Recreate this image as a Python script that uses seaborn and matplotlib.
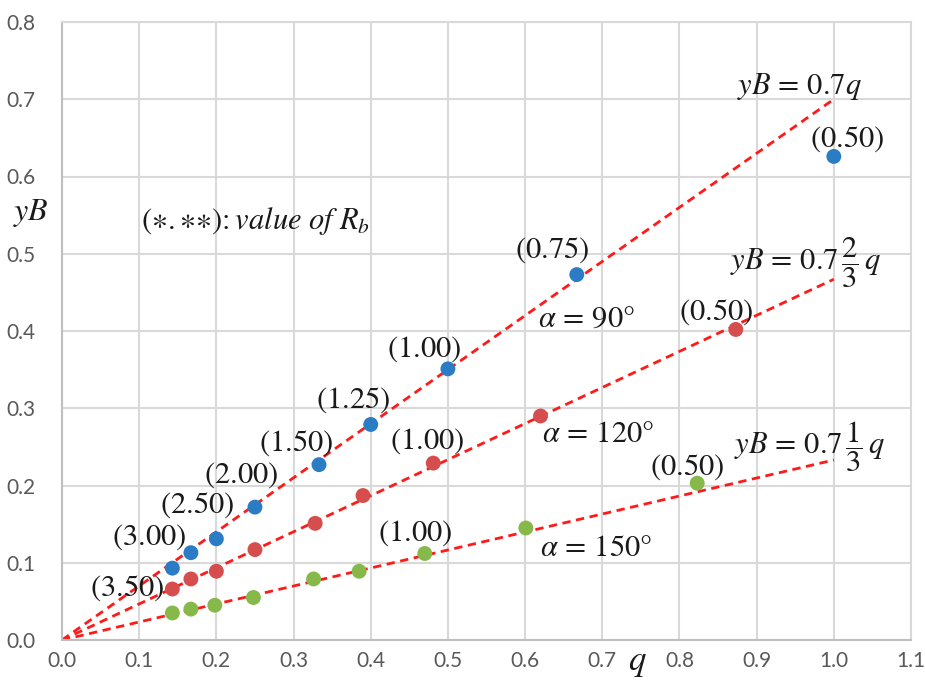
import numpy as np
import pandas as pd
import matplotlib
matplotlib.use("Agg")
import matplotlib.pyplot as plt
import seaborn as sns

# ---- data ----
rb_labels_blue = ["(3.50)", "(3.00)", "(2.50)", "(2.00)", "(1.50)", "(1.25)", "(1.00)", "(0.75)", "(0.50)"]
q_blue = [0.143, 0.167, 0.200, 0.250, 0.333, 0.400, 0.500, 0.667, 1.000]
yb_blue = [0.093, 0.113, 0.131, 0.172, 0.227, 0.279, 0.351, 0.473, 0.626]

q_red = [0.143, 0.167, 0.200, 0.250, 0.328, 0.390, 0.481, 0.620, 0.873]
yb_red = [0.066, 0.079, 0.089, 0.117, 0.151, 0.187, 0.229, 0.290, 0.402]

q_green = [0.143, 0.167, 0.198, 0.248, 0.326, 0.385, 0.470, 0.601, 0.823]
yb_green = [0.035, 0.040, 0.045, 0.055, 0.079, 0.089, 0.112, 0.145, 0.203]

series_names = ["α = 90°", "α = 120°", "α = 150°"]
line_q = [0.0, 1.0]
line_end_yb = [0.700, 0.467, 0.233]

x_ticks = [0.0, 0.1, 0.2, 0.3, 0.4, 0.5, 0.6, 0.7, 0.8, 0.9, 1.0, 1.1]
y_ticks = [0.0, 0.1, 0.2, 0.3, 0.4, 0.5, 0.6, 0.7, 0.8]

colors = ["#2b7cc4", "#d64d4d", "#86b94a"]

# ---- build frames ----
pts = pd.concat([
    pd.DataFrame({"q": q_blue, "yB": yb_blue, "series": series_names[0]}),
    pd.DataFrame({"q": q_red, "yB": yb_red, "series": series_names[1]}),
    pd.DataFrame({"q": q_green, "yB": yb_green, "series": series_names[2]}),
], ignore_index=True)

lines = pd.concat([
    pd.DataFrame({"q": line_q, "yB": [0.0, e], "series": n})
    for n, e in zip(series_names, line_end_yb)
], ignore_index=True)

sns.set_theme(style="whitegrid")
plt.rcParams["mathtext.fontset"] = "stix"
plt.rcParams["font.family"] = ["Lato", "DejaVu Sans"]

fig = plt.figure(figsize=(9.25, 6.8), dpi=100)
ax = fig.add_axes([62 / 925, 40 / 680, 849 / 925, 618 / 680])

for n in series_names:
    sub = lines[lines["series"] == n]
    sns.lineplot(data=sub, x="q", y="yB", ax=ax, color="#ff1a1a",
                 linestyle=(0, (3, 2)), linewidth=2.0, legend=False, zorder=2)

sns.scatterplot(data=pts, x="q", y="yB", hue="series", palette=colors,
                hue_order=series_names, s=115, edgecolor="none",
                legend=False, ax=ax, zorder=3)

ax.set_xlim(0, 1.1)
ax.set_ylim(0, 0.8)
ax.set_xticks(x_ticks)
ax.set_yticks(y_ticks)
ax.set_xticklabels([f"{v:.1f}" for v in x_ticks])
ax.set_yticklabels([f"{v:.1f}" for v in y_ticks])
ax.set_xlabel("")
ax.set_ylabel("")
ax.grid(True, color="#d9d9d9", linewidth=1.5)
for s in ax.spines.values():
    s.set_color("#d9d9d9")
    s.set_linewidth(1.5)
ax.spines["left"].set_color("#bfbfbf")
ax.spines["bottom"].set_color("#bfbfbf")
ax.tick_params(axis="both", labelsize=15, colors="#595959", length=0)
ax.tick_params(axis="y", pad=19)
ax.tick_params(axis="x", pad=8)
for lab in ax.get_xticklabels() + ax.get_yticklabels():
    lab.set_color("#595959")

# axis labels
ax.text(-0.0365, 0.553, "$yB$", transform=ax.get_yaxis_transform(),
        fontsize=23, ha="center", va="center", color="#1a1a1a")
ax.text(0.745, -0.038, "$q$", transform=ax.get_xaxis_transform(), fontsize=25,
        ha="center", va="center", color="#1a1a1a")

fs = 22
tc = "#1a1a1a"
# blue point labels
blue_label_pos = [(0.085, 0.067), (0.113, 0.133), (0.175, 0.175), (0.232, 0.214),
                  (0.304, 0.255), (0.377, 0.311), (0.469, 0.377), (0.635, 0.505), (1.017, 0.648)]
for (x, y), t in zip(blue_label_pos, rb_labels_blue):
    ax.text(x, y, "$" + t + "$", fontsize=fs, color=tc, ha="center", va="center")
# red labels
ax.text(0.473, 0.257, "$(1.00)$", fontsize=fs, color=tc, ha="center", va="center")
ax.text(0.847, 0.424, "$(0.50)$", fontsize=fs, color=tc, ha="center", va="center")
# green labels
ax.text(0.458, 0.138, "$(1.00)$", fontsize=fs, color=tc, ha="center", va="center")
ax.text(0.810, 0.224, "$(0.50)$", fontsize=fs, color=tc, ha="center", va="center")

# equation labels
ax.text(0.956, 0.716, "$yB\\,=\\,0.7q$", fontsize=fs, color=tc, ha="center", va="center")
ax.text(0.963, 0.488, "$yB\\,=\\,0.7\\,\\dfrac{2}{3}\\,q$", fontsize=fs, color=tc, ha="center", va="center")
ax.text(0.969, 0.250, "$yB\\,=\\,0.7\\,\\dfrac{1}{3}\\,q$", fontsize=fs, color=tc, ha="center", va="center")

# alpha labels
ax.text(0.680, 0.417, "$\\alpha\\,=\\,90°$", fontsize=fs, color=tc, ha="center", va="center")
ax.text(0.695, 0.268, "$\\alpha\\,=\\,120°$", fontsize=fs, color=tc, ha="center", va="center")
ax.text(0.692, 0.120, "$\\alpha\\,=\\,150°$", fontsize=fs, color=tc, ha="center", va="center")

# legend note
ax.text(0.103, 0.542, "$({\\ast}.{\\ast}{\\ast})\\!:value\\ of\\ R_b$", fontsize=fs, color=tc,
        ha="left", va="center")

fig.savefig("out.png", dpi=100)
